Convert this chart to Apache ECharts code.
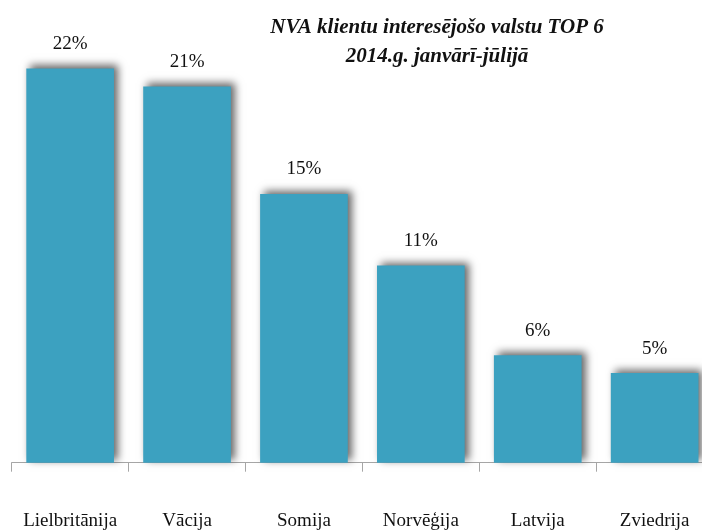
<!DOCTYPE html>
<html>
<head>
<meta charset="utf-8">
<script src="https://cdn.jsdelivr.net/npm/echarts@6/dist/echarts.min.js"></script>
<style>
  html, body { margin: 0; padding: 0; background: #ffffff; }
  #chart { width: 702px; height: 530px; }
</style>
</head>
<body>
<div id="chart"></div>
<script>
// Countries of interest for NVA clients, Jan–Jul 2014 (share, %)
const countries = ['Lielbritānija', 'Vācija', 'Somija', 'Norvēģija', 'Latvija', 'Zviedrija'];
const shares = [22, 21, 15, 11, 6, 5];
const titleLines = ['NVA klientu interesējošo valstu TOP 6', '2014.g. janvārī-jūlijā'];

const serif = '"Liberation Serif", "Times New Roman", serif';
const chart = echarts.init(document.getElementById('chart'), null, { renderer: 'canvas' });

chart.setOption({
  animation: false,
  backgroundColor: '#ffffff',
  title: {
    text: titleLines.join('\n'),
    left: 432,
    top: 8,
    textAlign: 'center',
    textStyle: {
      fontFamily: serif,
      fontStyle: 'italic',
      fontWeight: 'bold',
      fontSize: 21,
      lineHeight: 29,
      color: '#111111'
    }
  },
  // plot area runs a little past the right edge, so the last slot is clipped
  grid: {
    left: 11.7, width: 701.4, top: 14.7, bottom: 67.3,
    containLabel: false,
    outerBoundsMode: 'none'
  },
  xAxis: {
    type: 'category',
    data: countries,
    boundaryGap: true,
    axisLine: { lineStyle: { color: '#a6a6a6', width: 1.2 } },
    axisTick: { show: true, length: 9, lineStyle: { color: '#a6a6a6' } },
    axisLabel: {
      margin: 49,
      fontFamily: serif,
      fontSize: 19,
      color: '#111111',
      interval: 0
    }
  },
  yAxis: {
    type: 'value',
    min: 0,
    max: 25,
    show: false,
    splitLine: { show: false }
  },
  series: [{
    type: 'bar',
    data: shares,
    barCategoryGap: '25%',
    itemStyle: {
      color: '#3ca1c0',
      shadowColor: 'rgba(0,0,0,0.6)',
      shadowBlur: 8,
      shadowOffsetX: 4,
      shadowOffsetY: -3
    },
    label: {
      show: true,
      position: 'top',
      distance: 15,
      formatter: p => p.value + '%',
      fontFamily: serif,
      fontSize: 19,
      color: '#111111'
    }
  }]
});
</script>
</body>
</html>
